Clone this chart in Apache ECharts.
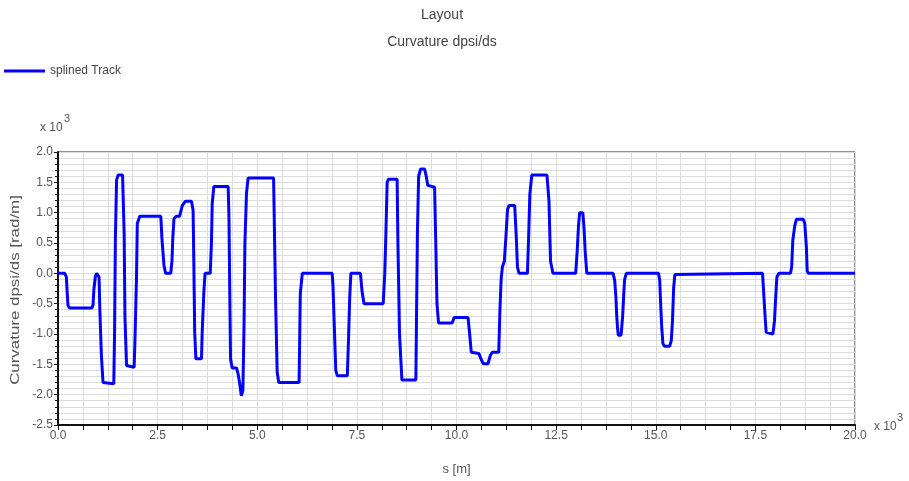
<!DOCTYPE html>
<html>
<head>
<meta charset="utf-8">
<title>Layout - Curvature dpsi/ds</title>
<script src="https://cdn.jsdelivr.net/npm/echarts@6/dist/echarts.min.js"></script>
<style>
    html, body {margin: 0; padding: 0; background: #fff;}
    #chart {width: 909px; height: 481px;}
</style>
</head>
<body>
<div id="chart"></div>
<script>
// s [m] in thousands
const sPos = [
    0, 0.17, 0.21, 0.23, 0.25, 0.29, 0.85, 0.88, 0.90, 0.94, 0.97, 1.00, 1.03, 1.05, 1.09, 1.13, 1.17,
    1.40, 1.42, 1.44, 1.47, 1.51, 1.62, 1.66, 1.68, 1.72, 1.76,
    1.91, 1.93, 1.97, 1.99, 2.05, 2.58, 2.61, 2.66, 2.70,
    2.83, 2.86, 2.88, 2.91, 2.97, 3.05, 3.12, 3.20, 3.35, 3.39, 3.41, 3.43, 3.46,
    3.60, 3.62, 3.66, 3.69, 3.82, 3.85, 3.87, 3.91, 4.27, 4.29, 4.31, 4.33, 4.37,
    4.48, 4.52, 4.56, 4.60, 4.64, 4.67, 4.69, 4.73, 4.77, 5.41, 5.46, 5.50, 5.54,
    6.05, 6.08, 6.13, 6.88, 6.90, 6.93, 6.97, 7.01, 7.26, 7.29, 7.32, 7.35,
    7.59, 7.63, 7.68, 8.16, 8.20, 8.23, 8.26, 8.29, 8.51, 8.53, 8.57, 8.63,
    8.98, 9.00, 9.02, 9.05, 9.10, 9.20, 9.24, 9.28, 9.45, 9.48, 9.51, 9.55,
    9.89, 9.94, 10.29, 10.33, 10.37, 10.56, 10.62, 10.67, 10.79, 10.85, 10.90,
    11.06, 11.09, 11.12, 11.15, 11.20, 11.24, 11.28, 11.32, 11.46, 11.50, 11.53, 11.57,
    11.78, 11.81, 11.84, 11.89, 12.27, 12.32, 12.36, 12.42,
    12.99, 13.03, 13.06, 13.09, 13.17, 13.20, 13.23, 13.27,
    13.93, 13.97, 14.00, 14.02, 14.04, 14.06, 14.13, 14.17, 14.20, 14.22, 14.26,
    15.07, 15.10, 15.12, 15.15, 15.18, 15.22, 15.35, 15.39, 15.42, 15.45, 15.48, 15.52,
    17.68, 17.72, 17.74, 17.77, 17.82, 17.94, 17.98, 18.01, 18.04, 18.09,
    18.38, 18.41, 18.44, 18.49, 18.53, 18.70, 18.74, 18.78, 18.80, 18.83, 20.0
];
// curvature dpsi/ds, as shown on the y axis
const curvature = [
    0, 0, -0.06, -0.31, -0.53, -0.57, -0.57, -0.52, -0.27, -0.04, 0.0, 0.0, -0.06, -0.6, -1.37, -1.8, -1.82,
    -1.82, -0.94, 0.57, 1.54, 1.62, 1.62, 0.66, -0.72, -1.52, -1.55,
    -1.55, -1.14, -0.06, 0.82, 0.94, 0.94, 0.55, 0.13, 0.0,
    0.0, 0.21, 0.57, 0.9, 0.94, 0.94, 1.12, 1.19, 1.19, 1.04, 0.1, -0.97, -1.41,
    -1.41, -0.94, -0.31, 0.0, 0.0, 0.49, 1.15, 1.43, 1.43, 0.93, -0.31, -1.41, -1.56,
    -1.56, -1.66, -1.82, -2.02, -1.93, -0.78, 0.49, 1.32, 1.57, 1.57, -0.45, -1.63, -1.8,
    -1.8, -0.34, 0.0, 0.0, -0.2, -0.8, -1.6, -1.69, -1.69, -1.1, -0.4, 0.0,
    0.0, -0.3, -0.5, -0.5, 0.0, 0.7, 1.5, 1.55, 1.55, 0.5, -1.0, -1.76,
    -1.76, -0.5, 0.7, 1.6, 1.72, 1.72, 1.6, 1.45, 1.42, 0.5, -0.5, -0.82,
    -0.82, -0.73, -0.73, -1.0, -1.3, -1.32, -1.42, -1.49, -1.49, -1.35, -1.3,
    -1.3, -0.6, -0.1, 0.1, 0.2, 0.6, 1.05, 1.12, 1.12, 0.6, 0.1, 0.0,
    0.0, 0.6, 1.3, 1.62, 1.62, 1.2, 0.2, 0.0,
    0.0, 0.38, 0.77, 1.0, 1.0, 0.75, 0.35, 0.0,
    0.0, -0.12, -0.39, -0.69, -0.89, -1.02, -1.02, -0.7, -0.3, -0.1, 0.0,
    0.0, -0.12, -0.45, -0.89, -1.16, -1.2, -1.2, -1.11, -0.78, -0.23, -0.02, 0.0,
    0.0, -0.45, -0.67, -0.97, -1.0, -1.0, -0.78, -0.39, -0.06, 0.0,
    0.0, 0.1, 0.55, 0.79, 0.89, 0.89, 0.82, 0.43, 0.04, 0.0, 0.0
];
const seriesName = 'splined Track';

const fontFam = "'Liberation Sans', Arial, sans-serif";
const txtColor = '#555';

let myChart = echarts.init(document.getElementById('chart'));
myChart.setOption({
    animation: false,
    textStyle: {fontFamily: fontFam},
    legend: {
        left: 4,
        top: 65,
        padding: 0,
        icon: 'rect',
        itemWidth: 41,
        itemHeight: 3,
        textStyle: {fontSize: 12, color: '#444', fontFamily: fontFam},
        data: [seriesName]
    },
    grid: {
        left: 58,
        right: 54,
        top: 152,
        bottom: 56,
        show: true,
        borderColor: '#222',
        borderWidth: 1
    },
    graphic: [
        // titles
        {type: 'text', x: 442, y: 8, style: {text: 'Layout', fontSize: 14, fill: '#444', fontFamily: fontFam, textAlign: 'center'}},
        {type: 'text', x: 442, y: 35, style: {text: 'Curvature dpsi/ds', fontSize: 14, fill: '#444', fontFamily: fontFam, textAlign: 'center'}},
        // y axis name (stretched like the original)
        {type: 'text', x: 15, y: 290, rotation: Math.PI / 2, scaleX: 1.3,
            style: {text: 'Curvature dpsi/ds [rad/m]', fontSize: 13, fill: txtColor, fontFamily: fontFam,
                textAlign: 'center', textVerticalAlign: 'middle'}},
        // exponent marks
        {type: 'text', x: 40, y: 122, style: {text: 'x 10', fontSize: 12, fill: txtColor, fontFamily: fontFam}},
        {type: 'text', x: 64, y: 113, style: {text: '3', fontSize: 11, fill: txtColor, fontFamily: fontFam}},
        {type: 'text', x: 874, y: 421, style: {text: 'x 10', fontSize: 12, fill: txtColor, fontFamily: fontFam}},
        {type: 'text', x: 897, y: 412, style: {text: '3', fontSize: 11, fill: txtColor, fontFamily: fontFam}}
    ],
    xAxis: {
        type: 'value',
        name: 's [m]',
        nameLocation: 'middle',
        nameGap: 38,
        nameTextStyle: {fontSize: 13, color: txtColor, fontFamily: fontFam},
        min: 0,
        max: 20,
        interval: 2.5,
        axisLine: {onZero: false, lineStyle: {color: '#111', width: 2}},
        axisTick: {show: true, length: 5, lineStyle: {color: '#111'}},
        minorTick: {show: true, splitNumber: 4, length: 5, lineStyle: {color: '#111'}},
        axisLabel: {
            color: txtColor,
            fontSize: 12,
            margin: 5,
            formatter: (v) => v.toFixed(1)
        },
        splitLine: {show: true, lineStyle: {color: '#dcdcdc'}},
        minorSplitLine: {show: true, lineStyle: {color: '#dcdcdc'}}
    },
    yAxis: {
        type: 'value',
        min: -2.5,
        max: 2.0,
        interval: 0.5,
        axisLine: {show: true, onZero: false, lineStyle: {color: '#111', width: 2}},
        axisTick: {show: true, length: 4, lineStyle: {color: '#111'}},
        minorTick: {show: true, splitNumber: 5, length: 3, lineStyle: {color: '#111'}},
        axisLabel: {
            color: txtColor,
            fontSize: 12,
            margin: 5,
            formatter: (v) => v.toFixed(1)
        },
        splitLine: {show: true, lineStyle: {color: '#dcdcdc'}},
        minorSplitLine: {show: true, lineStyle: {color: '#dcdcdc'}}
    },
    series: [{
        name: seriesName,
        type: 'line',
        symbol: 'none',
        data: sPos.map((s, i) => [s, curvature[i]]),
        lineStyle: {color: '#0000ff', width: 3},
        itemStyle: {color: '#0000ff'}
    }]
});
</script>
</body>
</html>
